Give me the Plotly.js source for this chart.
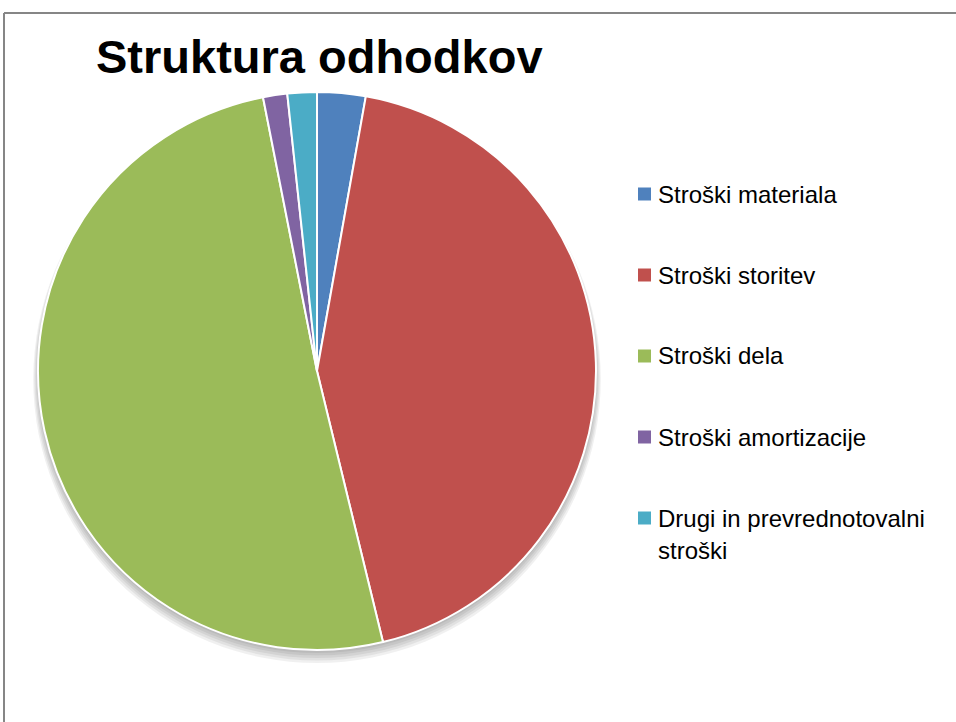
<!DOCTYPE html>
<html>
<head>
<meta charset="utf-8">
<script src="https://cdn.plot.ly/plotly-3.0.1.min.js"></script>
<style>html,body{margin:0;padding:0;background:#fff;}#chart{width:956px;height:722px;}</style>
</head>
<body>
<div id="chart"></div>
<script>
const categories = ["Stroški materiala", "Stroški storitev", "Stroški dela", "Stroški amortizacije", "Drugi in prevrednotovalni stroški"];
const values = [2.8, 43.4, 50.7, 1.4, 1.7];
const colors = ["#4F81BD", "#C0504D", "#9BBB59", "#8064A2", "#4BACC6"];
const chartTitle = "Struktura odhodkov";

const W = 956, H = 722;
const cx = 317, cy = 371, R = 279;
const px = x => x / W;
const py = y => 1 - y / H;

const trace = {
  type: 'pie',
  labels: categories,
  values: values,
  sort: false,
  direction: 'clockwise',
  rotation: 0,
  textinfo: 'none',
  hoverinfo: 'label+percent',
  marker: {colors: colors, line: {color: '#ffffff', width: 2}},
  domain: {x: [px(cx - R), px(cx + R)], y: [py(cy + R), py(cy - R)]},
  showlegend: false
};

const shapes = [];
// soft shadow under pie
for (let k = 0; k < 5; k++) {
  const r = R + k * 1.2, off = 3 + k * 1.3;
  shapes.push({type: 'circle', xref: 'paper', yref: 'paper', layer: 'below',
    x0: px(cx - r), x1: px(cx + r), y0: py(cy + off + r), y1: py(cy + off - r),
    fillcolor: 'rgba(0,0,0,0.06)', line: {width: 0}});
}
// frame
shapes.push({type: 'line', xref: 'paper', yref: 'paper', x0: px(4), x1: 1.01, y0: py(13), y1: py(13), line: {color: '#868686', width: 2}});
shapes.push({type: 'line', xref: 'paper', yref: 'paper', x0: px(4), x1: px(4), y0: py(13), y1: -0.01, line: {color: '#868686', width: 2}});

// legend
function wrap(s, n) {
  const words = s.split(' '); const lines = []; let cur = '';
  words.forEach(w => { if ((cur + ' ' + w).trim().length > n) { lines.push(cur); cur = w; } else cur = (cur + ' ' + w).trim(); });
  if (cur) lines.push(cur);
  return lines;
}
const annotations = [];
const legY0 = 194, legStep = 81, lineStep = 32;
categories.forEach((c, i) => {
  const y = legY0 + i * legStep;
  shapes.push({type: 'rect', xref: 'paper', yref: 'paper', x0: px(638), x1: px(651), y0: py(y + 6.5), y1: py(y - 6.5),
    fillcolor: colors[i], line: {width: 0}});
  wrap(c, 25).forEach((ln, j) => {
    annotations.push({xref: 'paper', yref: 'paper', x: px(656), y: py(y + j * lineStep), xanchor: 'left', yanchor: 'middle',
      text: ln, showarrow: false, font: {family: 'Liberation Sans, Arial, sans-serif', size: 24, color: '#000'}});
  });
});

const layout = {
  width: W, height: H,
  margin: {l: 0, r: 0, t: 0, b: 0},
  paper_bgcolor: '#ffffff',
  title: {text: '<b>' + chartTitle + '</b>', x: px(96), xanchor: 'left', xref: 'paper', y: 1 - 57 / H, yanchor: 'middle', yref: 'container',
    font: {family: 'Liberation Sans, Arial, sans-serif', size: 47, color: '#000'}},
  shapes: shapes,
  annotations: annotations
};
Plotly.newPlot('chart', [trace], layout, {displayModeBar: false, staticPlot: true});
</script>
</body>
</html>
